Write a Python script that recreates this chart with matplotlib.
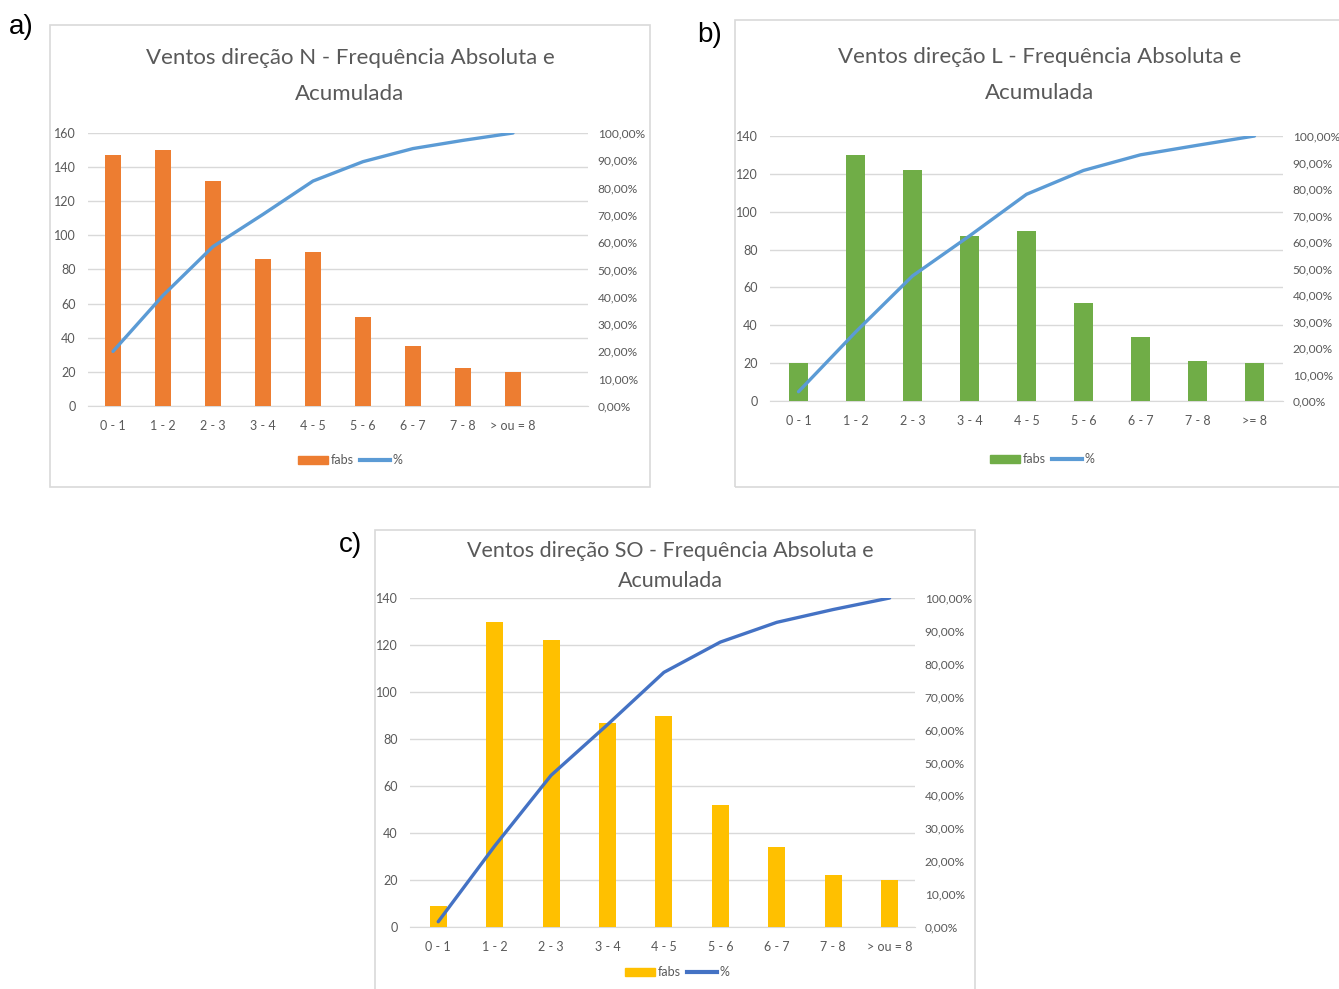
import matplotlib
matplotlib.use("Agg")
import matplotlib.pyplot as plt
from matplotlib.patches import Rectangle
from matplotlib.lines import Line2D
from matplotlib.ticker import FuncFormatter

W, H = 1339, 989

# ---- data ----
cats_a = ["0 - 1", "1 - 2", "2 - 3", "3 - 4", "4 - 5", "5 - 6", "6 - 7", "7 - 8", "> ou = 8"]
fabs_a = [147, 150, 132, 86, 90, 52, 35, 22, 20]
pct_a = [0.200, 0.405, 0.584, 0.702, 0.824, 0.895, 0.943, 0.973, 1.000]

cats_b = ["0 - 1", "1 - 2", "2 - 3", "3 - 4", "4 - 5", "5 - 6", "6 - 7", "7 - 8", ">= 8"]
fabs_b = [20, 130, 122, 87, 90, 52, 34, 21, 20]
pct_b = [0.035, 0.260, 0.472, 0.623, 0.780, 0.870, 0.929, 0.965, 1.000]

cats_c = ["0 - 1", "1 - 2", "2 - 3", "3 - 4", "4 - 5", "5 - 6", "6 - 7", "7 - 8", "> ou = 8"]
fabs_c = [9, 130, 122, 87, 90, 52, 34, 22, 20]
pct_c = [0.016, 0.246, 0.461, 0.615, 0.774, 0.866, 0.926, 0.965, 1.000]

GRID = "#D9D9D9"
TXT = "#595959"
FONT = "Lato"

fig = plt.figure(figsize=(W / 100, H / 100), dpi=100)


def fx(x):
    return x / W


def fy(y):
    return 1 - y / H


def pct_fmt(v, _):
    return f"{v * 100:.2f}%".replace(".", ",")


def panel(box, area, title_xy, title, tsize, tspace, cats, fabs, pct, ymax, xmax,
          bar_color, line_color, bar_w, legend_xy, letter, letter_xy):
    # chart border
    x0, y0, x1, y1 = box
    fig.patches.append(Rectangle((fx(x0), fy(y1)), fx(x1 - x0), (y1 - y0) / H,
                                 transform=fig.transFigure, fill=False,
                                 edgecolor=GRID, linewidth=1.2))
    fig.text(fx(letter_xy[0]), fy(letter_xy[1]), letter, fontsize=20,
             family="Liberation Sans", ha="left", va="center", color="black")
    fig.text(fx(title_xy[0]), fy(title_xy[1]), title, fontsize=tsize, family=FONT,
             color=TXT, ha="center", va="center", linespacing=tspace)

    l, t, r, b = area
    ax = fig.add_axes([fx(l), fy(b), fx(r - l), (b - t) / H])
    xs = list(range(len(cats)))
    ax.bar(xs, fabs, width=bar_w, color=bar_color, zorder=3)
    ax.set_xlim(-0.5, xmax)
    ax.set_ylim(0, ymax)
    ax.set_yticks(range(0, ymax + 1, 20))
    ax.set_xticks(xs)
    ax.set_xticklabels(cats)
    ax.grid(axis="y", color=GRID, linewidth=1, zorder=0)
    for s in ["top", "left", "right"]:
        ax.spines[s].set_visible(False)
    ax.spines["bottom"].set_color(GRID)
    ax.tick_params(length=0, colors=TXT, labelsize=9)
    ax.tick_params(axis="y", pad=9)
    ax.tick_params(axis="x", pad=10)
    for lab in ax.get_xticklabels() + ax.get_yticklabels():
        lab.set_family(FONT)

    ax2 = ax.twinx()
    ax2.plot(xs, pct, color=line_color, linewidth=2.4, zorder=4,
             solid_capstyle="round")
    ax2.set_ylim(0, 1)
    ax2.set_yticks([i / 10 for i in range(11)])
    ax2.yaxis.set_major_formatter(FuncFormatter(pct_fmt))
    for s in ["top", "left", "right", "bottom"]:
        ax2.spines[s].set_visible(False)
    ax2.tick_params(length=0, colors=TXT, labelsize=8.6, pad=7)
    for lab in ax2.get_yticklabels():
        lab.set_family(FONT)

    handles = [Rectangle((0, 0), 1, 1, color=bar_color),
               Line2D([], [], color=line_color, linewidth=3)]
    fig.legend(handles, ["fabs", "%"], ncol=2, frameon=False,
               loc="center", bbox_to_anchor=(fx(legend_xy[0]), fy(legend_xy[1])),
               prop={"family": FONT, "size": 9}, labelcolor=TXT,
               handlelength=2.4, handleheight=0.6, handletextpad=0.2,
               columnspacing=0.5)


panel((50, 25, 650, 487), (88, 133, 588, 406), (350, 76),
      "Ventos direção N - Frequência Absoluta e\nAcumulada", 16, 1.95,
      cats_a, fabs_a, pct_a, 160, 9.5, "#ED7D31", "#5B9BD5", 0.33,
      (350, 460), "a)", (9, 27))

panel((735, 20, 1345, 487), (770, 136, 1283, 401), (1040, 75),
      "Ventos direção L - Frequência Absoluta e\nAcumulada", 16, 2.05,
      cats_b, fabs_b, pct_b, 140, 8.5, "#70AD47", "#5B9BD5", 0.32,
      (1042, 459), "b)", (697, 35))

panel((375, 530, 975, 995), (410, 598, 915, 927), (670, 566),
      "Ventos direção SO - Frequência Absoluta e\nAcumulada", 15.5, 1.65,
      cats_c, fabs_c, pct_c, 140, 8.45, "#FFC000", "#4472C4", 0.30,
      (677, 972), "c)", (339, 545))

fig.savefig("out.png", dpi=100, facecolor="white")
